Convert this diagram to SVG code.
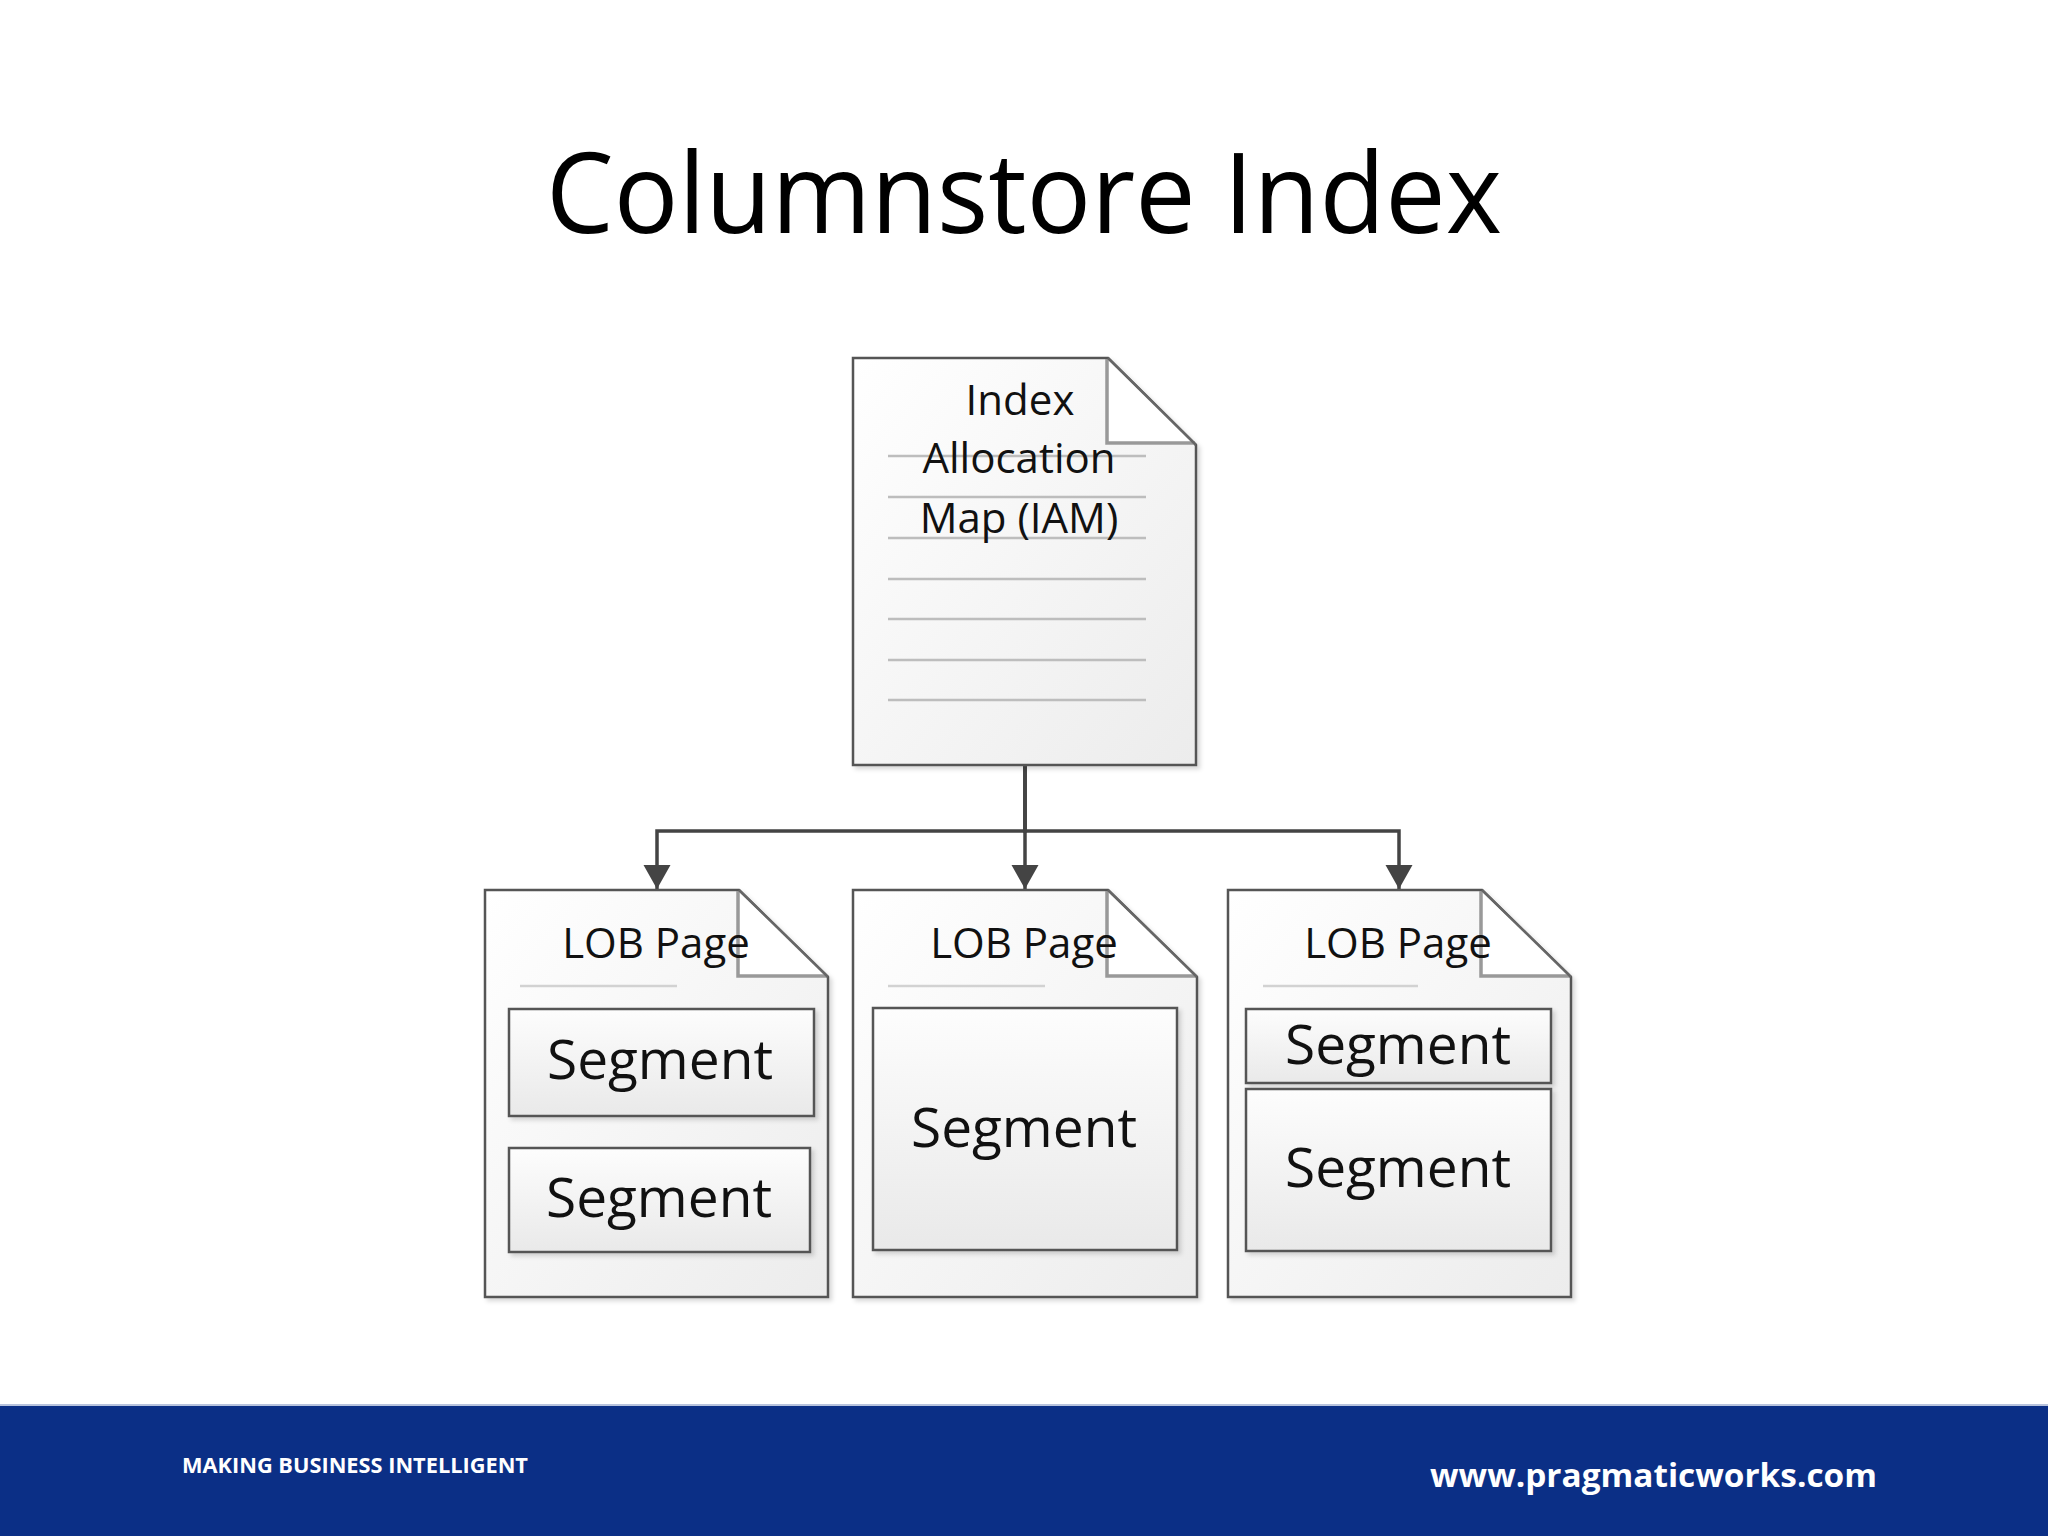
<svg xmlns="http://www.w3.org/2000/svg" width="2048" height="1536" viewBox="0 0 2048 1536">
<defs>
<linearGradient id="pageGrad" x1="0" y1="0" x2="1" y2="1">
<stop offset="0" stop-color="#ffffff"/>
<stop offset="1" stop-color="#ececec"/>
</linearGradient>
<linearGradient id="segGrad" x1="0" y1="0" x2="0" y2="1">
<stop offset="0" stop-color="#fdfdfd"/>
<stop offset="1" stop-color="#e9e9e9"/>
</linearGradient>
<filter id="shadow" x="-5%" y="-5%" width="115%" height="115%">
<feDropShadow dx="3" dy="3" stdDeviation="2" flood-color="#000" flood-opacity="0.15"/>
</filter>
<marker id="arrow" markerUnits="userSpaceOnUse" markerWidth="26" markerHeight="28" refX="24" refY="13.5" orient="auto">
<path d="M0,0 L24,13.5 L0,27 Z" fill="#444"/>
</marker>
</defs>
<style>
.page{fill:url(#pageGrad);stroke:#555;stroke-width:2.5;filter:url(#shadow)}
.fold{fill:#ffffff;stroke:none}
.foldL{fill:none;stroke:#999;stroke-width:3.5}
.foldD{fill:none;stroke:#666;stroke-width:2.5}
.rule{stroke:#bdbdbd;stroke-width:2.5}
.rule2{stroke:#d2d2d2;stroke-width:2.5}
.seg{fill:url(#segGrad);stroke:#555;stroke-width:2.5;filter:url(#shadow)}
.lbl{font-family:"Open Sans","Noto Sans",sans-serif;font-size:42px;fill:#111;text-anchor:middle}
.segt{font-family:"Open Sans","Noto Sans",sans-serif;font-size:55px;fill:#111;text-anchor:middle}
.conn{fill:none;stroke:#444;stroke-width:3.5}
</style>
<rect width="2048" height="1536" fill="#ffffff"/>
<text x="1024" y="233" font-family="Open Sans, Noto Sans, sans-serif" font-size="112" fill="#000" text-anchor="middle" textLength="956" lengthAdjust="spacingAndGlyphs">Columnstore Index</text>

<g id="connectors">
<path class="conn" d="M1025,765 V831 H657 V889" marker-end="url(#arrow)"/>
<path class="conn" d="M1025,765 V889" marker-end="url(#arrow)"/>
<path class="conn" d="M1025,765 V831 H1399 V889" marker-end="url(#arrow)"/>
</g>

<g id="iam">
<path class="page" d="M853,358 H1108 L1196,445 V765 H853 Z"/>
<path class="fold" d="M1107,359 L1196,445 H1107 Z"/>
<path class="foldL" d="M1107,359 V443 H1195"/>
<path class="foldD" d="M1108,358 L1196,445"/>
<g>
<line class="rule" x1="888" y1="456" x2="1146" y2="456"/>
<line class="rule" x1="888" y1="497" x2="1146" y2="497"/>
<line class="rule" x1="888" y1="538" x2="1146" y2="538"/>
<line class="rule" x1="888" y1="579" x2="1146" y2="579"/>
<line class="rule" x1="888" y1="619" x2="1146" y2="619"/>
<line class="rule" x1="888" y1="660" x2="1146" y2="660"/>
<line class="rule" x1="888" y1="700" x2="1146" y2="700"/>
</g>
<text class="lbl" x="1020" y="415">Index</text>
<text class="lbl" x="1019" y="473">Allocation</text>
<text class="lbl" x="1019" y="533">Map (IAM)</text>
</g>

<g id="lob1">
<path class="page" d="M485,890 H739 L828,977 V1297 H485 Z"/>
<path class="fold" d="M738,891 L828,977 H738 Z"/>
<path class="foldL" d="M738,891 V976 H827"/>
<path class="foldD" d="M739,890 L828,977"/>
<line class="rule2" x1="520" y1="986" x2="677" y2="986"/>
<text class="lbl" x="656" y="958">LOB Page</text>
<g id="lob1-seg1">
<rect class="seg" x="509" y="1009" width="305" height="107"/>
<text class="segt" x="660" y="1079">Segment</text>
</g>
<g id="lob1-seg2">
<rect class="seg" x="509" y="1148" width="301" height="104"/>
<text class="segt" x="659" y="1217">Segment</text>
</g>
</g>

<g id="lob2">
<path class="page" d="M853,890 H1108 L1197,977 V1297 H853 Z"/>
<path class="fold" d="M1107,891 L1197,977 H1107 Z"/>
<path class="foldL" d="M1107,891 V976 H1196"/>
<path class="foldD" d="M1108,890 L1197,977"/>
<line class="rule2" x1="888" y1="986" x2="1045" y2="986"/>
<text class="lbl" x="1024" y="958">LOB Page</text>
<g id="lob2-seg1">
<rect class="seg" x="873" y="1008" width="304" height="242"/>
<text class="segt" x="1024" y="1147">Segment</text>
</g>
</g>

<g id="lob3">
<path class="page" d="M1228,890 H1482 L1571,977 V1297 H1228 Z"/>
<path class="fold" d="M1481,891 L1571,977 H1481 Z"/>
<path class="foldL" d="M1481,891 V976 H1570"/>
<path class="foldD" d="M1482,890 L1571,977"/>
<line class="rule2" x1="1263" y1="986" x2="1418" y2="986"/>
<text class="lbl" x="1398" y="958">LOB Page</text>
<g id="lob3-seg1">
<rect class="seg" x="1246" y="1009" width="305" height="74"/>
<text class="segt" x="1398" y="1064">Segment</text>
</g>
<g id="lob3-seg2">
<rect class="seg" x="1246" y="1089" width="305" height="162"/>
<text class="segt" x="1398" y="1187">Segment</text>
</g>
</g>

<g id="footer">
<rect x="0" y="1405" width="2048" height="131" fill="#0b2f86"/>
<line x1="0" y1="1405" x2="2048" y2="1405" stroke="#b8c3dd" stroke-width="2"/>
<text x="182" y="1473" font-family="Open Sans, Noto Sans, sans-serif" font-weight="bold" font-size="21" fill="#ffffff" textLength="346" lengthAdjust="spacingAndGlyphs">MAKING BUSINESS INTELLIGENT</text>
<text x="1430" y="1487" font-family="Open Sans, Noto Sans, sans-serif" font-weight="bold" font-size="33" fill="#ffffff" textLength="447" lengthAdjust="spacingAndGlyphs">www.pragmaticworks.com</text>
</g>
</svg>
